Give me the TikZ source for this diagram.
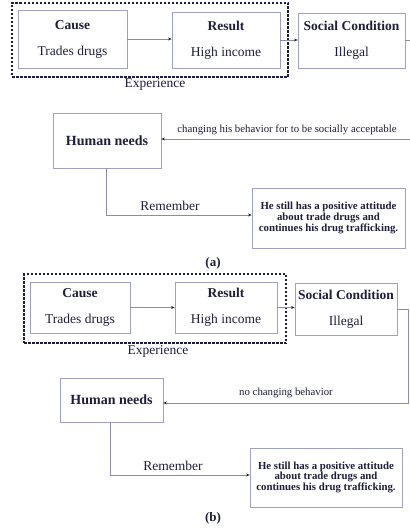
\documentclass[tikz,border=0pt]{standalone}
\usepackage{fontspec}
\setmainfont{Liberation Serif}
\usetikzlibrary{arrows.meta}
\definecolor{ink}{HTML}{1E1E38}
\definecolor{boxc}{HTML}{A0A0C0}
\definecolor{linec}{HTML}{8C8CA8}
\begin{document}
\begin{tikzpicture}[x=1pt,y=-1pt,
  box/.style={draw=boxc, line width=0.8pt, rectangle, inner sep=0pt, text=ink, align=center,
              font={\fontsize{13.5}{26}\selectfont}},
  hbox/.style={box, font={\fontsize{14}{16}\selectfont\bfseries}},
  sbox/.style={box, font={\fontsize{10.8}{9.4}\selectfont\bfseries}},
  conn/.style={draw=linec, line width=0.7pt},
  arr/.style={conn, -{Stealth[length=3.5pt,width=3pt,color=ink]}},
  dbox/.style={draw=ink, line width=1.6pt, dash pattern=on 2.5pt off 1.5pt, inner sep=0pt},
  lbl/.style={text=ink, inner sep=0pt},
  big/.style={lbl, font={\fontsize{13.5}{16}\selectfont}},
  small/.style={lbl, font={\fontsize{10.8}{12}\selectfont}},
]
\useasboundingbox (0,0) rectangle (409,529);
\fill[white] (0,0) rectangle (409,529);

% ---------- (a) ----------
\node[dbox, minimum width=276pt, minimum height=74pt] (expA) at (150,40) {};
\node[box, minimum width=109pt, minimum height=58pt] (causeA) at (72.5,39) {\textbf{Cause}\\Trades drugs};
\node[box, minimum width=108pt, minimum height=56pt] (resultA) at (226,40) {\textbf{Result}\\High income};
\node[box, minimum width=107pt, minimum height=55pt] (socialA) at (351.5,40.5) {\textbf{Social Condition}\\Illegal};
\node[big] (expAl) at (155,84) {Experience};
\node[hbox, minimum width=108pt, minimum height=55pt] (humanA) at (107,140.5) {Human needs};
\node[small] (chA) at (287,130) {changing his behavior for to be socially acceptable};
\node[sbox, minimum width=153pt, minimum height=60pt] (stillA) at (328.5,218)
  {He still has a positive attitude\\about trade drugs and\\continues his drug trafficking.};
\node[big] (remA) at (170,206) {Remember};
\node[lbl, font={\fontsize{13}{15}\selectfont\bfseries}] (capA) at (213,263) {(a)};

\draw[arr] (causeA.east) -- (causeA.east -| resultA.west);
\draw[arr] (resultA.east) -- (resultA.east -| socialA.west);
\draw[arr] (socialA.east) -- ++(5,0) |- ([yshift=1.5pt]humanA.east);
\draw[arr] ([xshift=-1pt]humanA.south) |- ([yshift=3pt]stillA.west);

% ---------- (b) ----------
\node[dbox, minimum width=262pt, minimum height=69pt] (expB) at (155,308.5) {};
\node[box, minimum width=100pt, minimum height=51pt] (causeB) at (80,307.5) {\textbf{Cause}\\Trades drugs};
\node[box, minimum width=102pt, minimum height=51pt] (resultB) at (226,307.5) {\textbf{Result}\\High income};
\node[box, minimum width=102pt, minimum height=52pt] (socialB) at (346,309) {\textbf{Social Condition}\\Illegal};
\node[big] (expBl) at (158,351) {Experience};
\node[hbox, minimum width=103pt, minimum height=44pt] (humanB) at (111.5,400) {Human needs};
\node[small] (chB) at (286,393) {no changing behavior};
\node[sbox, minimum width=152pt, minimum height=59pt] (stillB) at (326,477.5)
  {He still has a positive attitude\\about trade drugs and\\continues his drug trafficking.};
\node[big] (remB) at (173,466) {Remember};
\node[lbl, font={\fontsize{13}{15}\selectfont\bfseries}] (capB) at (213,518) {(b)};

\draw[arr] (causeB.east) -- (causeB.east -| resultB.west);
\draw[arr] (resultB.east) -- (resultB.east -| socialB.west);
\draw[arr] (socialB.east) -- ++(11,0) |- ([yshift=-3pt]humanB.east);
\draw[arr] ([xshift=-1.5pt]humanB.south) |- ([yshift=2.5pt]stillB.west);
\end{tikzpicture}
\end{document}
